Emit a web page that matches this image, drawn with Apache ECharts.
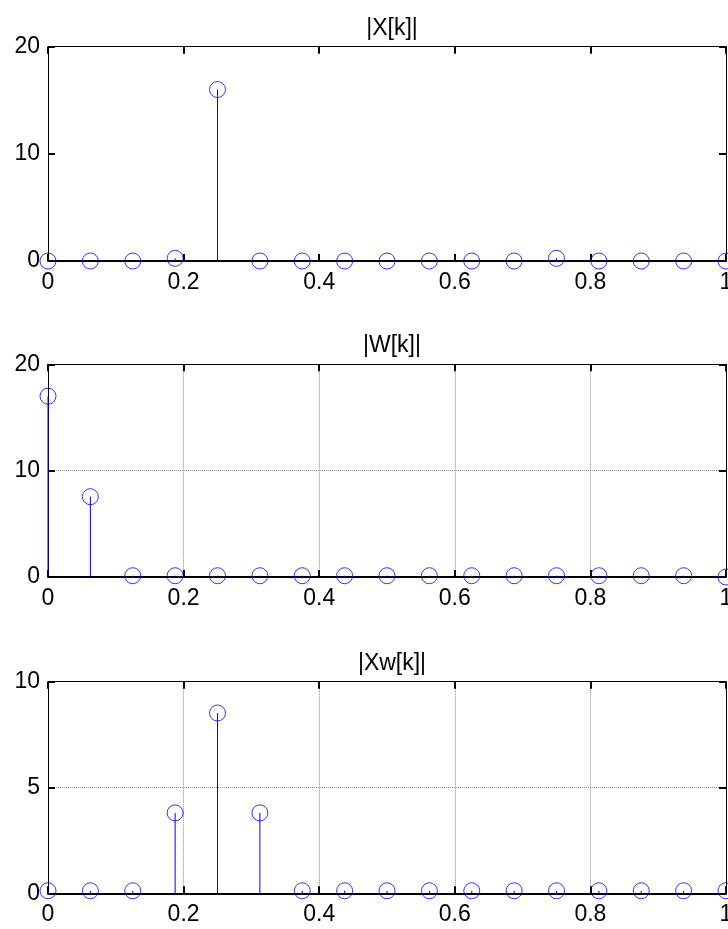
<!DOCTYPE html>
<html lang="en">
<head>
  <meta charset="UTF-8">
  <title>|X[k]|, |W[k]|, |Xw[k]|</title>
  <script src="https://cdn.jsdelivr.net/npm/echarts@6.0.0/dist/echarts.min.js"></script>
  <style>
    html, body { margin: 0; padding: 0; background: #fff; }
    #main { width: 728px; height: 929px; }
  </style>
</head>
<body>
<div id="main"></div>
<script>
  // normalised frequency of the 17 bins (k/16)
  var freq = [0, 0.0625, 0.125, 0.1875, 0.25, 0.3125, 0.375, 0.4375, 0.5,
              0.5625, 0.625, 0.6875, 0.75, 0.8125, 0.875, 0.9375, 1];

  // |X[k]|
  var magX = [0, 0, 0, 0.25, 16, 0, 0, 0, 0, 0, 0, 0, 0.25, 0, 0, 0, 0];
  // |W[k]|
  var magW = [17, 7.55, 0.12, 0.12, 0.12, 0.12, 0.12, 0.12, 0.12,
              0.12, 0.12, 0.12, 0.12, 0.12, 0.12, 0.12, 0];
  // |Xw[k]|
  var magXw = [0.12, 0.12, 0.12, 3.8, 8.52, 3.8, 0.12, 0.12, 0.12,
               0.12, 0.12, 0.12, 0.12, 0.12, 0.12, 0.12, 0.12];

  var titles = ['|X[k]|', '|W[k]|', '|Xw[k]|'];

  var FONT = 'Liberation Sans, Arial, sans-serif';
  var BLUE = '#0000ff';

  // panel layout: top, height, y max, y step, grid lines on/off
  var panels = [
    { top: 46.7, height: 214.3, max: 20, step: 10, grid: false, data: magX },
    { top: 364.3, height: 212.7, max: 20, step: 10, grid: true, data: magW },
    { top: 681.7, height: 211.6, max: 10, step: 5, grid: true, data: magXw }
  ];

  var option = {
    animation: false,
    backgroundColor: '#ffffff',
    title: [],
    grid: [],
    xAxis: [],
    yAxis: [],
    series: []
  };

  // matlab style ticks pointing into the box
  function tick() {
    return { show: true, inside: true, length: 7, lineStyle: { color: '#000', width: 2 } };
  }

  panels.forEach(function (p, i) {
    option.title.push({
      text: titles[i],
      left: 387,
      top: p.top - 35,
      textAlign: 'center',
      textStyle: { fontFamily: FONT, fontSize: 23, fontWeight: 'normal', color: '#000' }
    });

    option.grid.push({
      left: 48, right: 2, top: p.top, height: p.height,
      containLabel: false, outerBoundsMode: 'none'
    });

    var gridLine = {
      show: p.grid,
      lineStyle: { type: 'dotted', color: '#8c8c8c', width: 1 }
    };

    // bottom x axis with labels
    option.xAxis.push({
      type: 'value', gridIndex: i, position: 'bottom',
      min: 0, max: 1, interval: 0.2,
      axisLine: { show: true, onZero: false, lineStyle: { color: '#000', width: 2 } },
      axisTick: tick(),
      axisLabel: {
        margin: 10, color: '#000', fontFamily: FONT, fontSize: 23,
        formatter: function (v) { return String(+v.toFixed(1)); }
      },
      splitLine: gridLine
    });
    // top x axis: ticks only
    option.xAxis.push({
      type: 'value', gridIndex: i, position: 'top',
      min: 0, max: 1, interval: 0.2,
      axisLine: { show: true, onZero: false, lineStyle: { color: '#000', width: 1 } },
      axisTick: tick(),
      axisLabel: { show: false },
      splitLine: { show: false }
    });
    // left y axis with labels
    option.yAxis.push({
      type: 'value', gridIndex: i, position: 'left',
      min: 0, max: p.max, interval: p.step,
      axisLine: { show: true, onZero: false, lineStyle: { color: '#000', width: 1 } },
      axisTick: tick(),
      axisLabel: { margin: 8, color: '#000', fontFamily: FONT, fontSize: 23, padding: [5, 0, 0, 0] },
      splitLine: gridLine
    });
    // right y axis: ticks only
    option.yAxis.push({
      type: 'value', gridIndex: i, position: 'right',
      min: 0, max: p.max, interval: p.step,
      axisLine: { show: true, onZero: false, lineStyle: { color: '#000', width: 1 } },
      axisTick: tick(),
      axisLabel: { show: false },
      splitLine: { show: false }
    });

    var pts = freq.map(function (f, j) { return [f, p.data[j]]; });

    // stems
    option.series.push({
      type: 'custom',
      xAxisIndex: i * 2, yAxisIndex: i * 2,
      data: pts,
      clip: false,
      z: 3,
      renderItem: function (params, api) {
        var a = api.coord([api.value(0), 0]);
        var b = api.coord([api.value(0), api.value(1)]);
        return {
          type: 'line',
          shape: { x1: a[0], y1: a[1], x2: b[0], y2: b[1] },
          style: { stroke: BLUE, lineWidth: 1 }
        };
      }
    });
    // circle heads
    option.series.push({
      type: 'scatter',
      xAxisIndex: i * 2, yAxisIndex: i * 2,
      data: pts,
      clip: false,
      z: 4,
      symbol: 'circle',
      symbolSize: 16,
      itemStyle: { color: 'rgba(0,0,0,0)', borderColor: BLUE, borderWidth: 1 },
      emphasis: { disabled: true }
    });
  });

  var myChart = echarts.init(document.getElementById('main'), null, { renderer: 'canvas' });
  myChart.setOption(option);
</script>
</body>
</html>
